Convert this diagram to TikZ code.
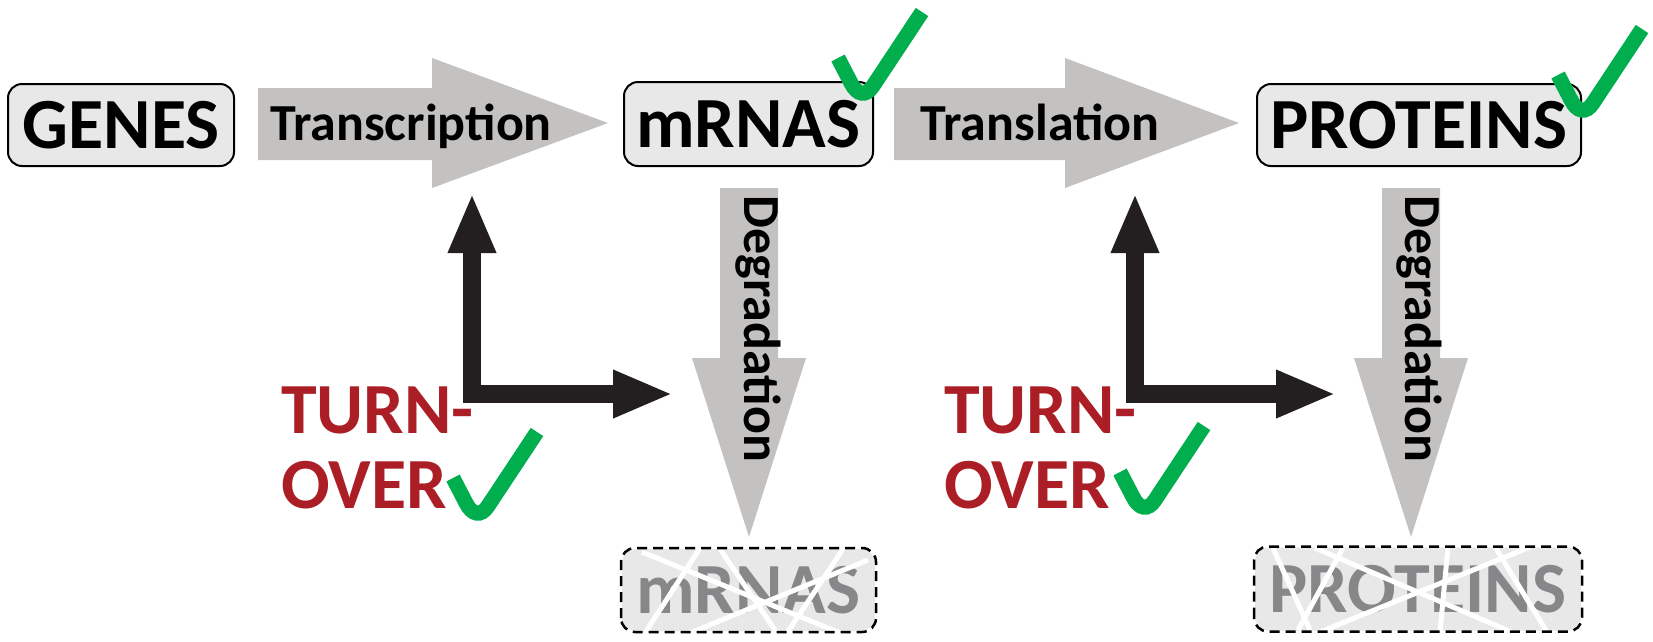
\documentclass[tikz,border=0pt]{standalone}
\usepackage{fontspec}
\setmainfont{Carlito}
\usetikzlibrary{arrows.meta}

\definecolor{arrowgray}{RGB}{196,194,193}
\definecolor{boxgray}{RGB}{232,232,233}
\definecolor{fadetext}{RGB}{135,135,138}
\definecolor{turnred}{RGB}{172,30,38}
\definecolor{tickgreen}{RGB}{0,174,77}
\definecolor{nearblack}{RGB}{35,31,32}

\tikzset{
  box/.style={draw,line width=2pt,rounded corners=14pt,fill=boxgray,inner sep=0pt,font=\fontsize{72}{75}\selectfont\bfseries},
  deadbox/.style={box,draw=none,text=fadetext},
  deadborder/.style={line width=2.5pt,dash pattern=on 10pt off 6pt,rounded corners=14pt},
  crossline/.style={white,line width=5pt},
  blocklabel/.style={inner sep=0pt,font=\fontsize{52}{56}\selectfont\bfseries},
  turnlabel/.style={inner sep=0pt,align=left,text=turnred,font=\fontsize{72}{75}\selectfont\bfseries},
  turnarrow/.style={nearblack,line width=18pt,line join=miter,{Triangle[length=60pt,width=44pt]}-{Triangle[length=60pt,width=44pt]}},
  okmark/.pic={\draw[tickgreen,line width=15pt] (0,0) -- (13,25) .. controls (19,37) and (28,39) .. (35,28) -- (84,-46);}
}

\begin{document}
\begin{tikzpicture}[x=1pt,y=-1pt]
\useasboundingbox (0,0) rectangle (1653,641);
% grey block arrows
\fill[arrowgray] (258,88) -- (432,88) -- (432,58) -- (608,123) -- (432,188) -- (432,160) -- (258,160) -- cycle;
\fill[arrowgray] (894,88) -- (1065,88) -- (1065,58) -- (1239,123) -- (1065,188) -- (1065,160) -- (894,160) -- cycle;
\fill[arrowgray] (720,188) -- (778,188) -- (778,358) -- (806,358) -- (749,537) -- (692,358) -- (720,358) -- cycle;
\fill[arrowgray] (1382,188) -- (1440,188) -- (1440,358) -- (1468,358) -- (1411,537) -- (1354,358) -- (1382,358) -- cycle;
\node[blocklabel,anchor=base] (transcription) at (411,140) {Transcription};
\node[blocklabel,anchor=base] (translation) at (1040,140) {Translation};
\node[blocklabel,anchor=base,rotate=-90] (degrade1) at (744,329) {Degradation};
\node[blocklabel,anchor=base,rotate=-90] (degrade2) at (1405,329) {Degradation};
% boxes
\node[box,minimum width=226pt,minimum height=82pt] (genes) at (121,125) {GENES};
\node[box,minimum width=249pt,minimum height=84pt] (mrna) at (748.5,124) {mRNAS};
\node[box,minimum width=324pt,minimum height=82pt] (proteins) at (1419,125) {PROTEINS};
% degraded boxes
\node[deadbox,minimum width=253pt,minimum height=82pt] (mrnagone) at (748.5,590) {mRNAS};
\node[deadbox,minimum width=326pt,minimum height=83pt] (proteingone) at (1418,589) {PROTEINS};
\begin{scope}
\clip[rounded corners=14pt] (mrnagone.south west) rectangle (mrnagone.north east);
\draw[crossline] (642,552) -- (840,633) (700,548) -- (645,633) (720,549) -- (777,633) (868,560) -- (690,633) (843,549) -- (787,633);
\end{scope}
\begin{scope}
\clip[rounded corners=14pt] (proteingone.south west) rectangle (proteingone.north east);
\draw[crossline] (1273,548) -- (1310,630) (1343,548) -- (1298,630) (1315,548) -- (1530,640) (1320,632) -- (1530,547) (1448,547) -- (1440,632) (1495,547) -- (1547,632);
\end{scope}
\draw[deadborder] (mrnagone.south west) rectangle (mrnagone.north east);
\draw[deadborder] (proteingone.south west) rectangle (proteingone.north east);
% turnover
\coordinate (up1) at (472,193);
\coordinate (right1) at (673,394);
\coordinate (up2) at (1135,193);
\coordinate (right2) at (1336,394);
\draw[turnarrow] (up1) |- (right1);
\draw[turnarrow] (up2) |- (right2);
\node[turnlabel,anchor=north west] (turnover1) at (281,387) {TURN-\\OVER};
\node[turnlabel,anchor=north west] (turnover2) at (944,387) {TURN-\\OVER};
% ticks
\pic at (838,58) {okmark};
\pic at (1558,75) {okmark};
\pic at (453,478) {okmark};
\pic at (1120,472) {okmark};
\end{tikzpicture}
\end{document}
